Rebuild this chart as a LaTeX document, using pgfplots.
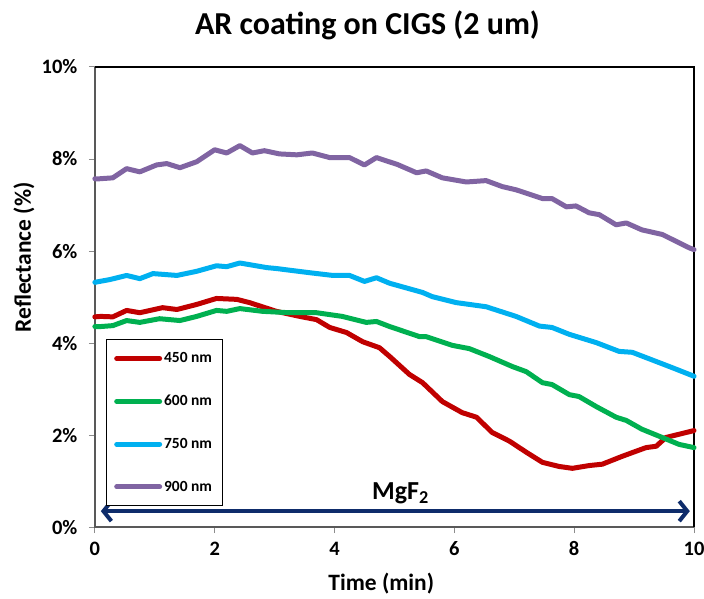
\documentclass[border=0pt]{standalone}
\usepackage{fontspec}
\setmainfont{Carlito}
\usepackage{pgfplots}
\pgfplotsset{compat=1.18}
\usetikzlibrary{arrows.meta}
\definecolor{cred}{HTML}{C00000}
\definecolor{cgreen}{HTML}{00B050}
\definecolor{cblue}{HTML}{00B0F0}
\definecolor{cpurple}{HTML}{8064A2}
\definecolor{cnavy}{HTML}{0E2C6B}
\definecolor{caxis}{HTML}{595959}
\begin{document}
\begin{tikzpicture}
\begin{axis}[
  width=600pt, height=461pt, scale only axis,
  xmin=0, xmax=10, ymin=0, ymax=10,
  xtick={0,2,4,6,8,10}, xticklabels={0,2,4,6,8,10},
  ytick={0,2,4,6,8,10}, yticklabels={0\%,2\%,4\%,6\%,8\%,10\%},
  tick align=outside, tick pos=left, major tick length=6pt,
  tick style={black!45, line width=0.9pt},
  ticklabel style={font=\fontsize{20.5}{22}\selectfont\bfseries},
  yticklabel style={anchor=east, xshift=-8pt},
  xticklabel style={anchor=north, yshift=-5pt},
  xlabel={Time (min)}, ylabel={Reflectance (\%)},
  every axis y label/.style={at={(axis description cs:-0.1183,0.586)}, rotate=90, anchor=center,
    font=\fontsize{23.5}{26}\selectfont\bfseries},
  every axis x label/.style={at={(axis description cs:0.478,-0.122)}, anchor=center,
    font=\fontsize{23.5}{26}\selectfont\bfseries},
  title={AR coating on CIGS (2 um)},
  every axis title/.style={at={(axis description cs:0.455,1)}, anchor=base, yshift=32pt,
    font=\fontsize{32}{36}\selectfont\bfseries},
  axis line style={draw=none},
  legend style={at={(axis description cs:0.0183,0.408)}, anchor=north west, draw=black, line width=0.8pt,
    font=\fontsize{15.5}{17}\selectfont\bfseries, row sep=29pt, inner ysep=12pt, inner xsep=8pt,
    nodes={inner xsep=2pt, inner ysep=1pt}, cells={anchor=west}},
  legend cell align=left,
  legend image code/.code={\draw[#1, line cap=round] (0pt,0pt) -- (43pt,0pt);},
  every axis plot/.append style={line width=5pt, line join=round, line cap=round},
  clip=false,
]
\draw[caxis, line width=2.2pt] (rel axis cs:0,1) -- (rel axis cs:0,0) -- (rel axis cs:1,0);
\draw[black, line width=2.2pt] (rel axis cs:0,1) -- (rel axis cs:1,1) -- (rel axis cs:1,0);
\addplot[cred] coordinates {
(0,4.57) (0.1,4.58) (0.3,4.57) (0.53,4.71) (0.75,4.66) (1.13,4.77) (1.37,4.73) (1.7,4.84)
(2.03,4.97) (2.37,4.95) (2.58,4.88) (3.03,4.69) (3.42,4.58) (3.7,4.51) (3.92,4.34)
(4.2,4.23) (4.47,4.03) (4.75,3.9) (4.92,3.71) (5.25,3.32) (5.47,3.14) (5.8,2.73)
(6.13,2.49) (6.37,2.39) (6.63,2.06) (6.92,1.87) (7.2,1.63) (7.47,1.41) (7.75,1.32)
(7.97,1.28) (8.25,1.34) (8.47,1.37) (8.8,1.54) (9.03,1.65) (9.2,1.73) (9.37,1.76)
(9.53,1.95) (9.75,2.02) (10,2.1)};
\addlegendentry{450 nm}
\addplot[cgreen] coordinates {
(0,4.36) (0.1,4.36) (0.3,4.38) (0.53,4.49) (0.75,4.45) (1.08,4.53) (1.42,4.49) (1.7,4.58)
(2.03,4.71) (2.2,4.69) (2.42,4.75) (2.8,4.69) (3.25,4.66) (3.7,4.66) (4.13,4.58)
(4.53,4.45) (4.7,4.47) (4.92,4.36) (5.42,4.14) (5.53,4.14) (5.97,3.95) (6.25,3.88)
(6.58,3.71) (6.97,3.49) (7.2,3.38) (7.47,3.14) (7.63,3.1) (7.92,2.88) (8.08,2.84)
(8.37,2.62) (8.7,2.39) (8.87,2.32) (9.13,2.13) (9.47,1.95) (9.75,1.8) (10,1.73)};
\addlegendentry{600 nm}
\addplot[cblue] coordinates {
(0,5.32) (0.08,5.34) (0.25,5.38) (0.53,5.47) (0.75,5.4) (0.97,5.51) (1.37,5.47)
(1.7,5.56) (2.03,5.68) (2.2,5.66) (2.42,5.74) (2.87,5.64) (3.03,5.62) (3.58,5.53)
(3.97,5.47) (4.25,5.47) (4.5,5.34) (4.7,5.42) (4.92,5.3) (5.47,5.1) (5.63,5.01)
(6.03,4.88) (6.53,4.79) (7.03,4.58) (7.42,4.37) (7.63,4.34) (7.92,4.19) (8.37,4.01)
(8.75,3.82) (8.97,3.8) (9.37,3.6) (9.63,3.47) (10,3.28)};
\addlegendentry{750 nm}
\addplot[cpurple] coordinates {
(0,7.57) (0.08,7.57) (0.3,7.59) (0.53,7.79) (0.75,7.72) (1.03,7.87) (1.2,7.9) (1.42,7.81)
(1.7,7.94) (2.0,8.2) (2.2,8.13) (2.42,8.29) (2.63,8.13) (2.83,8.18) (3.08,8.11)
(3.37,8.09) (3.63,8.13) (3.92,8.03) (4.25,8.03) (4.5,7.87) (4.7,8.03) (5.05,7.88)
(5.37,7.7) (5.53,7.74) (5.8,7.59) (6.2,7.5) (6.53,7.53) (6.8,7.4) (7.03,7.33)
(7.47,7.14) (7.63,7.14) (7.87,6.96) (8.03,6.98) (8.25,6.83) (8.42,6.79) (8.7,6.57)
(8.87,6.61) (9.13,6.46) (9.47,6.36) (9.92,6.07) (10,6.03)};
\addlegendentry{900 nm}
\addplot[cnavy, line width=4pt, line cap=butt,
  {Straight Barb[length=8pt,width=20pt,line width=4pt]}-{Straight Barb[length=8pt,width=20pt,line width=4pt]},
  forget plot] coordinates {(0.1,0.35) (9.93,0.35)};
\node[font=\fontsize{26}{28}\selectfont\bfseries, anchor=base] at (axis cs:5.1,0.6) {MgF\textsubscript{2}};
\end{axis}
\pgfresetboundingbox
\path[use as bounding box] ([xshift=-95pt,yshift=-71pt]current axis.south west) rectangle ([xshift=10pt,yshift=67pt]current axis.north east);
\end{tikzpicture}
\end{document}
